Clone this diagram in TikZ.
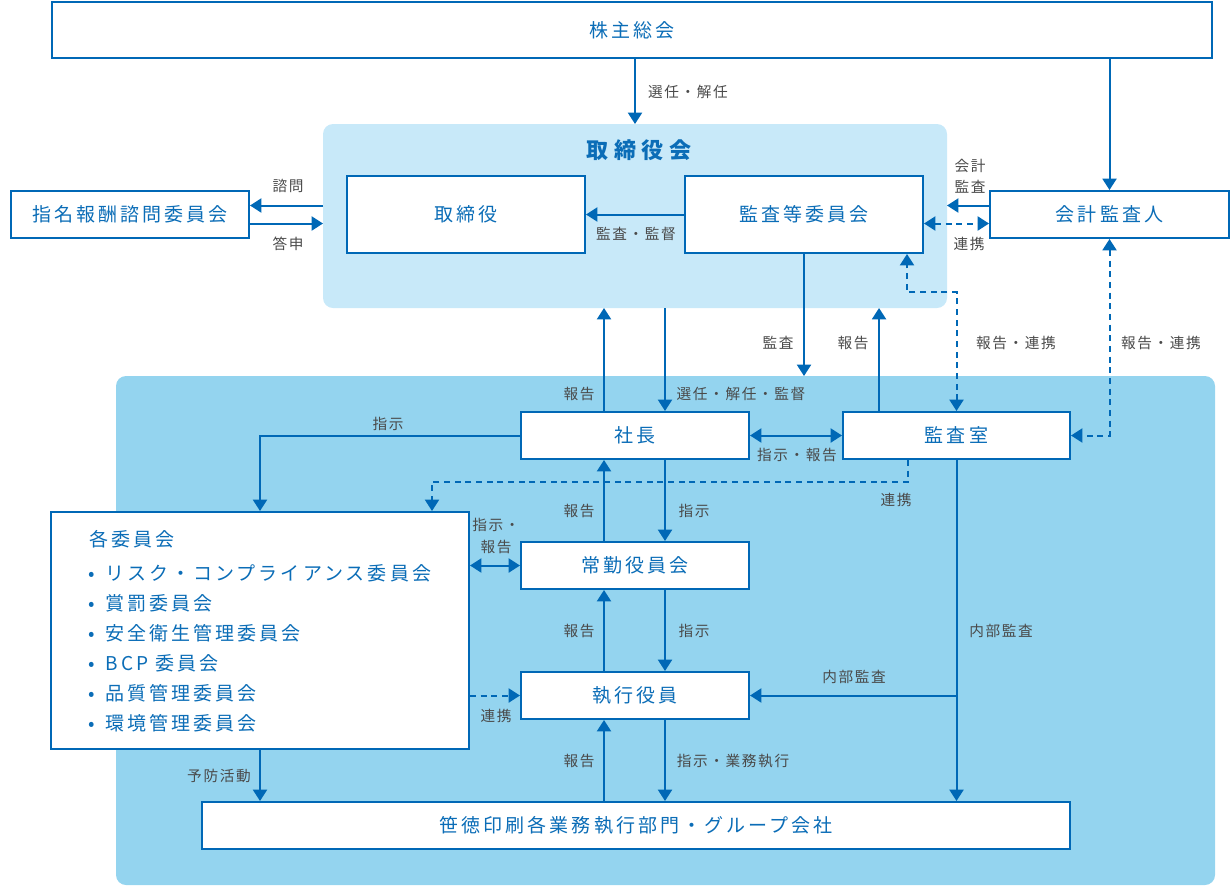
\documentclass[tikz,border=0pt]{standalone}
\usepackage{fontspec}
\setmainfont{Noto Sans CJK JP}
\newfontfamily\boxfont[LetterSpace=16]{Noto Sans CJK JP}
\newfontfamily\labelfont[LetterSpace=11]{Noto Sans CJK JP}
\newfontfamily\titlefont[LetterSpace=25]{Noto Sans CJK JP}
\usetikzlibrary{arrows.meta}

\definecolor{lineblue}{HTML}{0068B6}
\definecolor{textblue}{HTML}{0B6DB7}
\definecolor{boardbg}{HTML}{C8E9F9}
\definecolor{execbg}{HTML}{94D4EF}
\definecolor{labelgray}{HTML}{4A4A4A}

\begin{document}
\begin{tikzpicture}[x=.75pt, y=-.75pt,
    conn/.style={draw=lineblue, line width=1.5pt},
    dconn/.style={conn, dash pattern=on 4.5pt off 3.5pt},
    >={Triangle[width=10.5pt,length=8.5pt]}]

  \useasboundingbox (0,0) rectangle (1230,886);

  % regions
  \begin{scope}[every node/.style={inner sep=0, outer sep=0, rounded corners=7.5pt}]
    \node[fill=boardbg, minimum width=468pt, minimum height=138pt] (board) at (635,216) {};
    \node[fill=execbg, minimum width=824.25pt, minimum height=381.75pt] (exec) at (665.5,630.5) {};
  \end{scope}

  \node[text=textblue, font=\titlefont\fontsize{16.5pt}{18pt}\selectfont\bfseries] (boardtitle) at (639,150) {取締役会};

  % boxes
  \begin{scope}[every node/.style={draw=lineblue, line width=1.5pt, fill=white, text=textblue,
      font=\boxfont\fontsize{14.25pt}{17pt}\selectfont, inner sep=0}]
    \node[minimum width=870pt, minimum height=42pt] (kabunushi) at (632,30) {株主総会};
    \node[minimum width=178.5pt, minimum height=57.75pt] (torishimariyaku) at (466,214.5) {取締役};
    \node[minimum width=178.5pt, minimum height=57.75pt] (kansatou) at (804,214.5) {監査等委員会};
    \node[minimum width=178.5pt, minimum height=35.25pt] (shimei) at (130,214.5) {指名報酬諮問委員会};
    \node[minimum width=179.25pt, minimum height=35.25pt] (kaikei) at (1109.5,214.5) {会計監査人};
    \node[minimum width=171pt, minimum height=35.25pt] (shachou) at (635,435.5) {社長};
    \node[minimum width=170.25pt, minimum height=35.25pt] (kansashitsu) at (956.5,435.5) {監査室};
    \node[minimum width=313.5pt, minimum height=177.75pt] (kakuiinkai) at (260,630.5) {};
    \node[minimum width=171pt, minimum height=35.25pt] (joukin) at (635,565.5) {常勤役員会};
    \node[minimum width=171pt, minimum height=35.25pt] (shikkou) at (635,695.5) {執行役員};
    \node[minimum width=651pt, minimum height=35.25pt] (bumon) at (636,825.5) {笹徳印刷各業務執行部門・グループ会社};
  \end{scope}

  % committee list
  \begin{scope}[every node/.style={text=textblue, font=\boxfont\fontsize{14.25pt}{17pt}\selectfont,
      anchor=west, inner sep=0}]
    \node (kakutitle) at (89,539) {各委員会};
    \foreach \t [count=\i] in {リスク・コンプライアンス委員会, 賞罰委員会, 安全衛生管理委員会,
        BCP 委員会, 品質管理委員会, 環境管理委員会}
      \node (item\i) at (88,543+30*\i) {\makebox[13pt][l]{•}\t};
  \end{scope}

  % labels
  \begin{scope}[every node/.style={text=labelgray, font=\labelfont\fontsize{11pt}{16pt}\selectfont,
      inner sep=0, align=center}]
    \node (l1)  at (688,92)  {選任・解任};
    \node (l2)  at (288,186) {諮問};
    \node (l3)  at (288,244) {答申};
    \node (l4)  at (636,234) {監査・監督};
    \node (l5)  at (970,176) {会計\\監査};
    \node (l6)  at (969,244) {連携};
    \node (l7)  at (579,394) {報告};
    \node (l8)  at (741,394) {選任・解任・監督};
    \node (l9)  at (778,343) {監査};
    \node (l10) at (853,343) {報告};
    \node (l11) at (1016,343) {報告・連携};
    \node (l12) at (1161,343) {報告・連携};
    \node (l13) at (388,424) {指示};
    \node (l14) at (797,455) {指示・報告};
    \node (l15) at (896,500) {連携};
    \node (l16) at (579,511) {報告};
    \node (l17) at (694,511) {指示};
    \node (l18) at (496,536) {指示・\\報告};
    \node (l19) at (579,631) {報告};
    \node (l20) at (694,631) {指示};
    \node (l21) at (1001,631) {内部監査};
    \node (l22) at (854,677) {内部監査};
    \node (l23) at (496,716) {連携};
    \node (l24) at (579,761) {報告};
    \node (l25) at (733,761) {指示・業務執行};
    \node (l26) at (219,776) {予防活動};
  \end{scope}

  % connectors
  \draw[conn,->] (board.north |- kabunushi.south) -- (board.north);
  \draw[conn,->] (kaikei.north |- kabunushi.south) -- (kaikei.north);
  \draw[conn,->] ([yshift=6.75pt]shimei.east -| board.west) -- ([yshift=6.75pt]shimei.east);
  \draw[conn,->] ([yshift=-6.75pt]shimei.east) -- ([yshift=-6.75pt]shimei.east -| board.west);
  \draw[conn,->] (kansatou.west) -- (torishimariyaku.east);
  \draw[conn,->] ([yshift=6.75pt]kaikei.west) -- ([yshift=6.75pt]kaikei.west -| board.east);
  \draw[dconn,<->] ([yshift=-6.75pt]kansatou.east) -- ([yshift=-6.75pt]kaikei.west);
  \draw[conn,->] ([xshift=-23.25pt]shachou.north) -- ([xshift=-23.25pt]shachou.north |- board.south);
  \draw[conn,->] ([xshift=22.5pt]shachou.north |- board.south) -- ([xshift=22.5pt]shachou.north);
  \draw[conn,->] (kansatou.south) -- (kansatou.south |- exec.north);
  \draw[conn,->] ([xshift=-58.1pt]kansashitsu.north) -- ([xshift=-58.1pt]kansashitsu.north |- board.south);
  \draw[dconn,<->] (kansashitsu.north) -- ++(0,-119) -| ([xshift=77.25pt]kansatou.south);
  \draw[dconn,<->] (kaikei.south) |- (kansashitsu.east);
  \draw[conn,<->] (shachou.east) -- (kansashitsu.west);
  \draw[conn,->] (shachou.west) -| (kakuiinkai.north);
  \draw[dconn,->] ([xshift=-36.4pt]kansashitsu.south) -- ++(0,22) -| ([xshift=129pt]kakuiinkai.north);
  \draw[conn,->] ([xshift=22.5pt]shachou.south) -- ([xshift=22.5pt]joukin.north);
  \draw[conn,->] ([xshift=-23.25pt]joukin.north) -- ([xshift=-23.25pt]shachou.south);
  \draw[conn,->] ([xshift=22.5pt]joukin.south) -- ([xshift=22.5pt]shikkou.north);
  \draw[conn,->] ([xshift=-23.25pt]shikkou.north) -- ([xshift=-23.25pt]joukin.south);
  \draw[conn,->] ([xshift=22.5pt]shikkou.south) -- ([xshift=22.5pt]shikkou.south |- bumon.north);
  \draw[conn,->] ([xshift=-23.25pt]shikkou.south |- bumon.north) -- ([xshift=-23.25pt]shikkou.south);
  \draw[conn,<->] (kakuiinkai.east |- joukin.west) -- (joukin.west);
  \draw[dconn,->] (kakuiinkai.east |- shikkou.west) -- (shikkou.west);
  \draw[conn,->] (kansashitsu.south) -- (kansashitsu.south |- bumon.north);
  \draw[conn,->] (kansashitsu.south |- shikkou.east) -- (shikkou.east);
  \draw[conn,->] (kakuiinkai.south) -- (kakuiinkai.south |- bumon.north);

\end{tikzpicture}
\end{document}
